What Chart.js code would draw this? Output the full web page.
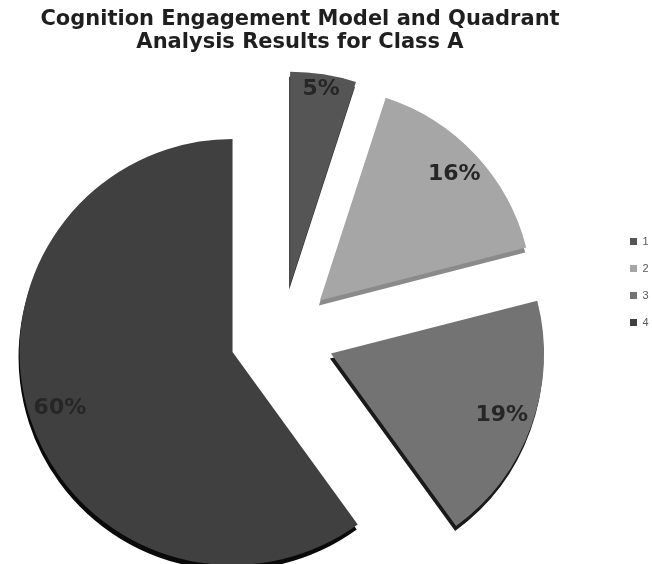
<!DOCTYPE html>
<html><head><meta charset="utf-8">
<script src="https://cdn.jsdelivr.net/npm/chart.js@4/dist/chart.umd.min.js"></script>
<style>
html,body{margin:0;padding:0;background:#fff;overflow:hidden;width:652px;height:564px}
#wrap{position:absolute;left:-50px;top:0;width:702px;height:564px}
</style>
</head><body><div id="wrap"><canvas id="c"></canvas></div>
<script>
const titleLines = ['Cognition Engagement Model and Quadrant', 'Analysis Results for Class A'];
const categories = ['1', '2', '3', '4'];
const shares = [5, 16, 19, 60];
const sliceColors = ['#555555', '#a6a6a6', '#737373', '#404040'];
const sideColors = ['#303030', '#8a8a8a', '#1a1a1a', '#0a0a0a'];
const EXPLODE = 52, DEPTH_X = -1, DEPTH_Y = 5;

const pie3dPlugin = {
  id: 'pie3d',
  afterDatasetsUpdate(chart) {
    const ca = chart.chartArea;
    const cx = (ca.left + ca.right) / 2, cy = (ca.top + ca.bottom) / 2;
    chart.getDatasetMeta(0).data.forEach(arc => {
      const mid = (arc.startAngle + arc.endAngle) / 2;
      arc.x = cx + Math.cos(mid) * EXPLODE;
      arc.y = cy + Math.sin(mid) * EXPLODE;
    });
  },
  beforeDatasetsDraw(chart) {
    const ctx = chart.ctx;
    chart.getDatasetMeta(0).data.forEach((arc, i) => {
      const ghost = Object.create(arc);
      ghost.options = Object.assign({}, arc.options, {backgroundColor: sideColors[i], borderWidth: 0});
      ctx.save(); ctx.translate(DEPTH_X, DEPTH_Y); ghost.draw(ctx); ctx.restore();
    });
  },
  afterDatasetsDraw(chart) {
    const ctx = chart.ctx;
    const meta = chart.getDatasetMeta(0);
    const total = shares.reduce((a, b) => a + b, 0);
    ctx.save();
    ctx.font = 'bold 22px "DejaVu Sans"';
    ctx.fillStyle = '#262626';
    ctx.textAlign = 'center';
    ctx.textBaseline = 'middle';
    meta.data.forEach((arc, i) => {
      const txt = Math.round(shares[i] / total * 100) + '%';
      const mid = (arc.startAngle + arc.endAngle) / 2;
      const w = ctx.measureText(txt).width, h = 16;
      const ext = Math.abs(Math.cos(mid)) * w / 2 + Math.abs(Math.sin(mid)) * h / 2;
      const d = arc.outerRadius - 4 - ext;
      ctx.fillText(txt, arc.x + Math.cos(mid) * d, arc.y + Math.sin(mid) * d);
    });
    ctx.restore();
  }
};

new Chart(document.getElementById('c'), {
  type: 'pie',
  data: {
    labels: categories,
    datasets: [{
      data: shares,
      backgroundColor: sliceColors,
      borderWidth: 0,
      radius: 213,
      clip: false
    }]
  },
  options: {
    responsive: true,
    maintainAspectRatio: false,
    animation: false,
    layout: {padding: {left: 0, right: 2, top: 0, bottom: 0}},
    plugins: {
      tooltip: {enabled: false},
      title: {
        display: true,
        text: titleLines,
        fullSize: true,
        color: '#1f1f1f',
        font: {family: 'DejaVu Sans', size: 21, weight: 'bold', lineHeight: 1.1},
        padding: {top: 8, bottom: 53.8}
      },
      legend: {
        position: 'right',
        maxWidth: 36,
        labels: {
          boxWidth: 7, boxHeight: 7, padding: 16,
          color: '#595959',
          font: {family: 'Liberation Sans', size: 11}
        }
      }
    }
  },
  plugins: [pie3dPlugin]
});
</script>
</body></html>
